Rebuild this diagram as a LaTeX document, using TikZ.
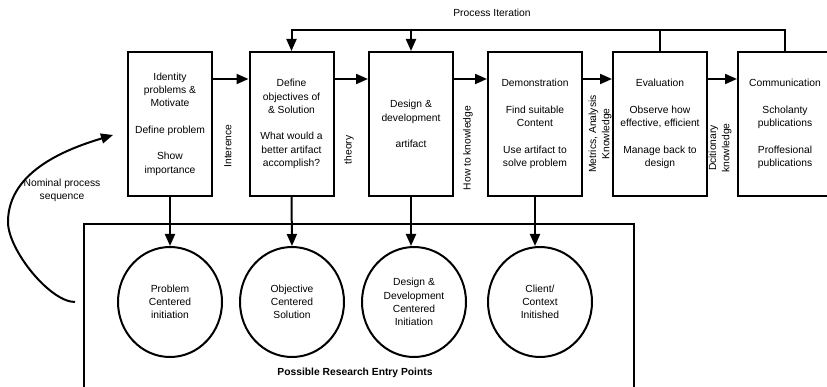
\documentclass[tikz,border=0pt]{standalone}
\usepackage{fontspec}
\setmainfont{Liberation Sans}
\usetikzlibrary{shapes.geometric, arrows.meta, positioning}

\begin{document}
\begin{tikzpicture}[x=1pt, y=-1pt,
  stage/.style={draw, line width=2pt, minimum height=144pt, align=center, inner sep=2pt, font=\fontsize{10.3}{13.3}\selectfont},
  entry/.style={draw, ellipse, line width=2pt, minimum width=104pt, minimum height=110pt, align=center, inner sep=1pt, font=\fontsize{10.3}{13.3}\selectfont},
  flow/.style={line width=2pt, -{Triangle[length=12pt, width=10pt]}},
  edgelabel/.style={rotate=90, align=center, inner sep=1pt, font=\fontsize{10.3}{13.3}\selectfont},
  plain/.style={align=center, inner sep=1pt, font=\fontsize{10.3}{13.3}\selectfont}]
  \useasboundingbox (0,0) rectangle (827,387);
  \clip (0,0) rectangle (827,387);

  % Process stages
  \node[stage, minimum width=84pt] (ident) at (170,124) {Identity\\problems \&\\Motivate\\[13.3pt]Define problem\\[13.3pt]Show\\importance};
  \node[stage, minimum width=84pt] (object) at (291.5,124) {Define\\objectives of\\\& Solution\\[13.3pt]What would a\\better artifact\\accomplish?};
  \node[stage, minimum width=84pt] (design) at (411,124) {Design \&\\development\\[13.3pt]artifact};
  \node[stage, minimum width=94pt] (demo) at (535,124) {Demonstration\\[13.3pt]Find suitable\\Content\\[13.3pt]Use artifact to\\solve problem};
  \node[stage, minimum width=94pt] (eval) at (660,124) {Evaluation\\[13.3pt]Observe how\\effective, efficient\\[13.3pt]Manage back to\\design};
  \node[stage, minimum width=94pt] (comm) at (785,124) {Communication\\[13.3pt]Scholanty\\publications\\[13.3pt]Proffesional\\publications};

  % Labels between the stages
  \node[edgelabel] (infer) at (228,146) {Interence};
  \node[edgelabel] (theory) at (349,150) {theory};
  \node[edgelabel] (howto) at (468,148) {How to knowledge};
  \node[edgelabel] (metrics) at (600,134) {Metrics, Analysis\\Knowledge};
  \node[edgelabel] (dict) at (720,148) {Dcitionary\\knowledge};

  % Forward arrows
  \draw[flow] ([yshift=-28pt]ident.north east) -- ([yshift=-28pt]object.north west);
  \draw[flow] ([yshift=-28pt]object.north east) -- ([yshift=-28pt]design.north west);
  \draw[flow] ([yshift=-28pt]design.north east) -- ([yshift=-28pt]demo.north west);
  \draw[flow] ([yshift=-28pt]demo.north east) -- ([yshift=-28pt]eval.north west);
  \draw[flow] ([yshift=-28pt]eval.north east) -- ([yshift=-28pt]comm.north west);

  % Process iteration
  \node[plain] (iterlabel) at (492,13) {Process Iteration};
  \coordinate (iter) at (785,30);
  \draw[flow] (comm.north) -- (iter) -| (object.north);
  \draw[flow] (design.north |- iter) -- (design.north);
  \draw[line width=2pt] (eval.north) -- (eval.north |- iter);

  % Entry points
  \draw[line width=1.8pt] (84,400) -- (84,224) -- (634,224) -- (634,400);
  \node[entry] (problem) at (170,302) {Problem\\Centered\\initiation};
  \node[entry] (objective) at (292,302) {Objective\\Centered\\Solution};
  \node[entry] (develop) at (414,302) {Design \&\\Development\\Centered\\Initiation};
  \node[entry] (client) at (540,302) {Client/\\Context\\Initished};
  \node[plain, font=\fontsize{10.3}{13.3}\selectfont\bfseries] (entrylabel) at (355,373) {Possible Research Entry Points};

  \draw[flow] (ident.south) -- (problem.north);
  \draw[flow] (object.south) -- (objective.north);
  \draw[flow] (design.south) -- (design.south |- develop.north);
  \draw[flow] (demo.south) -- (demo.south |- client.north);

  % Nominal sequence
  \node[plain] (nominal) at (62,190) {Nominal process\\sequence};
  \coordinate (nomstart) at (75,302);
  \coordinate (nomend) at (113,135);
  \draw[flow] (nomstart) .. controls (50,302) and (8,250) .. (8,222)
    .. controls (8,170) and (70,148) .. (nomend);
\end{tikzpicture}
\end{document}
